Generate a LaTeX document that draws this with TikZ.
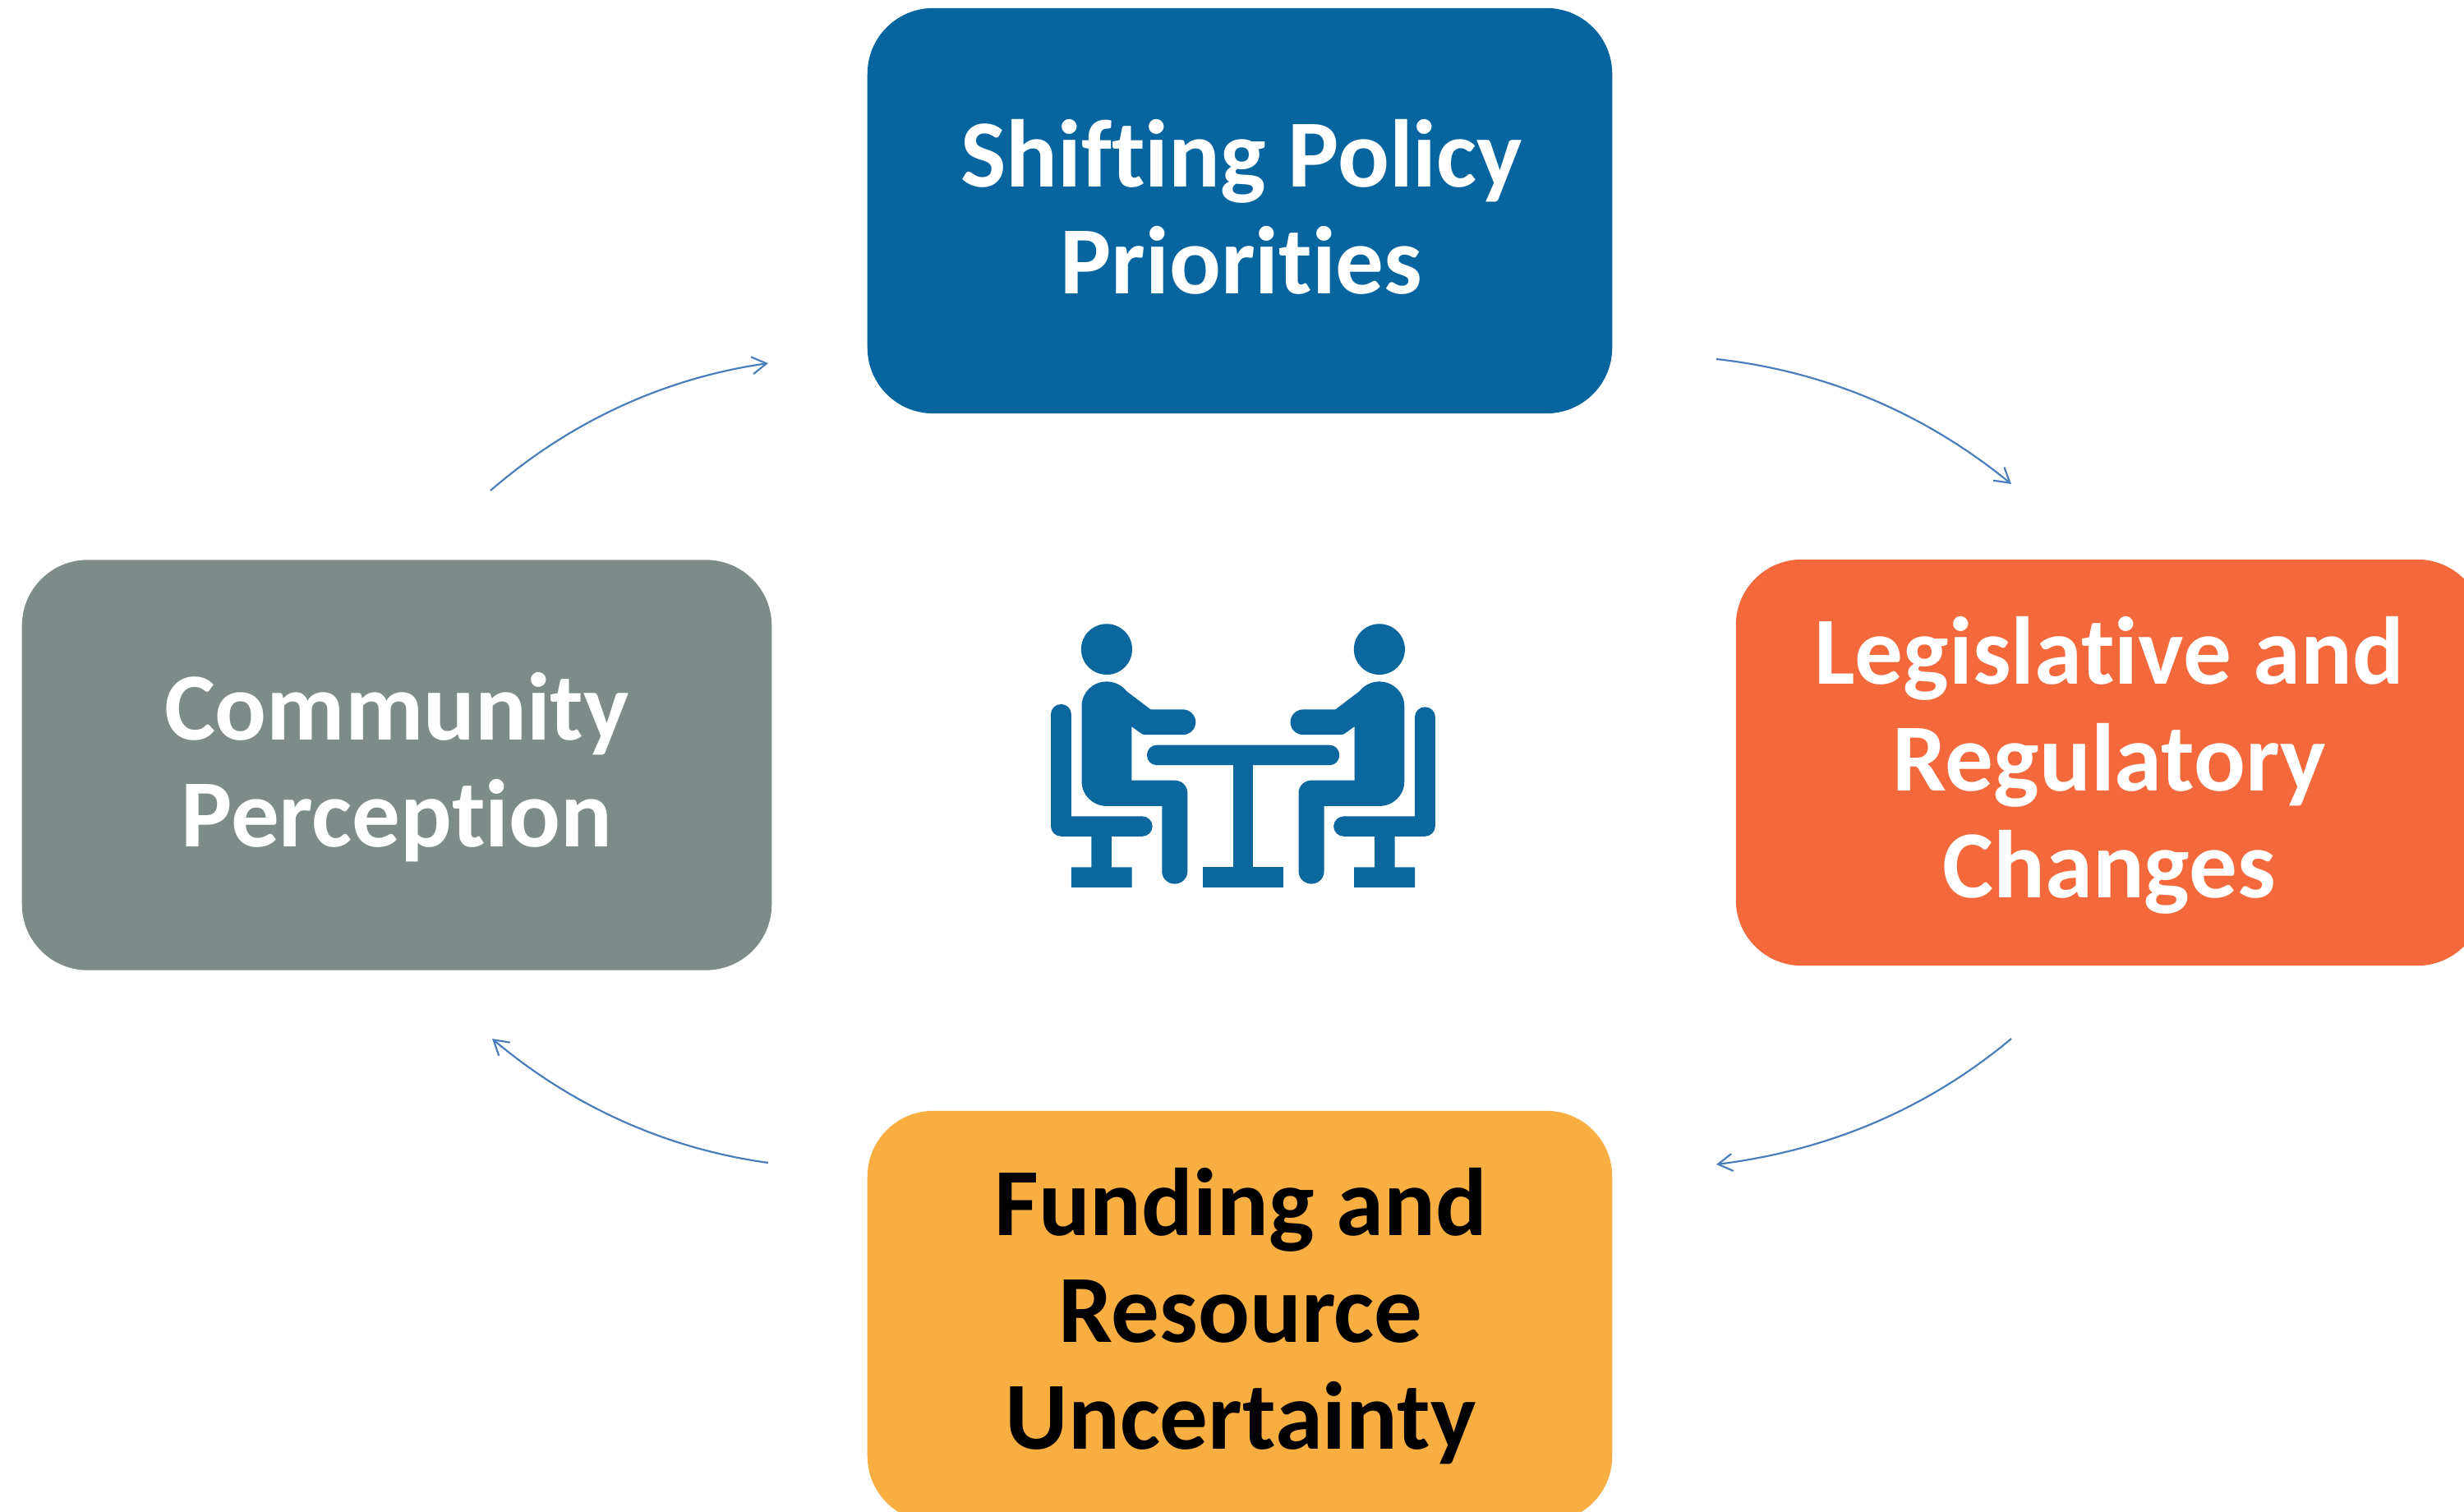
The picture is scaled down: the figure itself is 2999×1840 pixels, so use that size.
\documentclass[tikz,border=0pt]{standalone}
\usepackage{fontspec}
\setmainfont{Carlito}[Ligatures=NoCommon]
\usetikzlibrary{arrows.meta}
\definecolor{topblue}{HTML}{06659E}
\definecolor{iconblue}{HTML}{0B679E}
\definecolor{orangebox}{HTML}{F4693C}
\definecolor{greybox}{HTML}{7D8B89}
\definecolor{yellowbox}{HTML}{F8AE40}
\definecolor{arrowblue}{HTML}{4A7EBB}
\newcommand{\personpath}{
  (222,390) arc[start angle=180,end angle=323,radius=88] -- (465,403) -- (578,403)
  arc[start angle=270,end angle=450,radius=46] -- (450,495)
  .. controls (437,495) and (430,490) .. (425,485) -- (398,465) -- (398,660) -- (550,660)
  arc[start angle=270,end angle=360,radius=45] -- (595,990)
  arc[start angle=0,end angle=180,radius=45] -- (505,753) -- (310,753)
  arc[start angle=90,end angle=180,radius=88] -- cycle}
\newcommand{\chairpath}[1]{
  (113,#1) arc[start angle=180,end angle=360,radius=36] -- (185,790) -- (435,790)
  arc[start angle=270,end angle=450,radius=36.5] -- (327,863) -- (327,975) -- (399,975)
  -- (399,1048) -- (185,1048) -- (185,975) -- (256,975) -- (256,863) -- (150,863)
  arc[start angle=90,end angle=180,radius=37] -- cycle}
\tikzset{
  stepbox/.style={rounded corners=0.8cm,minimum width=9.06cm,inner sep=0pt,draw=none},
  boxtext/.style={align=center,font=\fontsize{33.3}{37}\selectfont\bfseries,inner sep=0pt},
  flow/.style={draw=arrowblue,line width=0.62pt,-{Straight Barb[length=1.75mm,width=2.1mm,line width=0.62pt]}},
  icon/.style={fill=iconblue,draw=none}
}
\begin{document}
\begin{tikzpicture}[x=0.01cm,y=-0.01cm]
\useasboundingbox (0,0) rectangle (2999,1840);
\clip (0,0) rectangle (2999,1840);
\node[stepbox,fill=topblue,minimum height=4.93cm] (top) at (1509,256.5) {};
\node[stepbox,fill=orangebox,minimum width=9.09cm,minimum height=4.94cm] (right) at (2567.5,928) {};
\node[stepbox,fill=greybox,minimum width=9.12cm,minimum height=4.99cm] (left) at (483,931) {};
\node[stepbox,fill=yellowbox,minimum height=5.00cm] (bottom) at (1509,1602) {};
\node[boxtext,text=white] (toptext) at (1511,252) {Shifting Policy\\Priorities};
\node[boxtext,text=white] (righttext) at (2567,931.5) {Legislative and\\Regulatory\\Changes};
\node[boxtext,text=white] (lefttext) at (483,934) {Community\\Perception};
\node[boxtext,text=black] (bottomtext) at (1510,1602) {Funding and\\Resource\\Uncertainty};
\coordinate (a1) at (2089,437); \coordinate (b1) at (2448,589);
\coordinate (a2) at (2448,1264); \coordinate (b2) at (2089,1417);
\coordinate (a3) at (935,1415); \coordinate (b3) at (599,1264);
\coordinate (a4) at (597,597); \coordinate (b4) at (935,442);
\draw[flow] (a1) .. controls (2225,452) and (2345,505) .. (b1);
\draw[flow] (a2) .. controls (2345,1350) and (2225,1400) .. (b2);
\draw[flow] (a3) .. controls (810,1398) and (695,1345) .. (b3);
\draw[flow] (a4) .. controls (695,512) and (810,460) .. (b4);
\begin{scope}[shift={(1240,728)},x=0.003444cm,y=-0.00335cm]
  \fill[icon] (310,185) ellipse[x radius=90,y radius=92];
  \fill[icon] (1272,185) ellipse[x radius=90,y radius=92];
  \fill[icon] \personpath;
  \fill[icon] \chairpath{420};
  \fill[icon,rounded corners=0.12cm] (452,532) rectangle (1131,605);
  \fill[icon] (756,600) rectangle (827,980);
  \fill[icon] (649,975) rectangle (934,1048);
  \begin{scope}[shift={(1582,0)},xscale=-1]
    \fill[icon] \personpath;
    \fill[icon] \chairpath{430};
  \end{scope}
\end{scope}
\end{tikzpicture}
\end{document}
